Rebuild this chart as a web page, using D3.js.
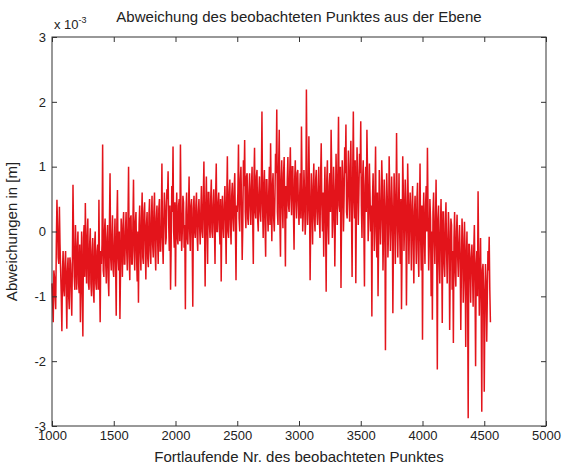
<!DOCTYPE html>
<html lang="de">
<head>
  <meta charset="utf-8">
  <title>Abweichung des beobachteten Punktes</title>
  <script type="text/javascript" src="https://cdnjs.cloudflare.com/ajax/libs/d3/7.8.5/d3.min.js"></script>
  <style>
    body {
      margin: 0px;
      background: #ffffff;
    }
    svg text {
      font-family: "Liberation Sans Narrow", "Arial Narrow", "Liberation Sans", Arial, sans-serif;
      fill: #222222;
    }
  </style>
</head>
<body>
  <script type="text/javascript">
    var width = 566;
    var height = 467;

    // tick labels
    var xTicks = [1000, 1500, 2000, 2500, 3000, 3500, 4000, 4500, 5000];
    var yTicks = [-3, -2, -1, 0, 1, 2, 3];

    // running point number: first point, step between read values
    var startNr = 1000;
    var stepNr = 5;

    // deviation in 1e-3 m at points 1000, 1010, 1020 ... (peaks and dips)
    var abw = [
      -0.8, -1.4, -0.7, -1.2, 0.49, -0.4, 0.38, -0.6, -1.54, -0.3,      // 1000
      -1.0, -0.3, -1.5, -0.4, -1.2, -0.5, -1.3, 0.72, -0.7, 0.1,        // 1100
      -0.9, 0.0, -0.95, -1.4, 0.0, -1.62, 0.1, 0.44, -0.8, 0.2,         // 1200
      -0.9, 0.05, -1.0, -0.1, -1.1, 0.0, -0.9, -0.2, 0.49, -1.4,        // 1300
      -0.5, 1.34, -0.7, 0.2, -0.8, 0.1, -1.0, 0.9, -0.6, 0.25,          // 1400
      -0.7, 0.2, -1.3, 0.64, -0.6, -1.35, 0.2, -0.7, 0.3, -0.5,         // 1500
      0.3, -0.6, 1.0, -0.75, 0.25, -0.5, 0.8, -0.6, 0.3, -0.77,         // 1600
      -1.1, 0.4, -0.6, 0.6, -0.5, 0.45, -0.74, 0.3, -0.55, 0.5,         // 1700
      -0.5, 0.55, -0.4, 0.6, -0.6, 0.4, -0.5, 0.5, -0.3, 1.05,          // 1800
      -0.5, 0.6, -0.2, 0.65, 0.93, -0.3, -0.9, 0.7, 1.31, -0.25,        // 1900
      -0.85, 0.6, -0.2, 0.5, 1.34, -0.3, 0.55, -0.25, -1.2, 0.6,        // 2000
      -0.2, 0.85, -0.3, 0.5, -1.16, 0.55, -0.1, 0.6, -0.3, 0.5,         // 2100
      -0.2, 0.7, -0.1, 1.08, -0.85, 0.85, -0.5, 0.6, -0.1, 0.8,         // 2200
      -0.1, 0.65, -0.5, 1.05, 0.0, 0.6, -0.2, -0.77, 0.55, -0.1,        // 2300
      0.7, -0.5, 1.16, -0.1, 0.8, -0.2, 0.75, 0.0, 0.9, -0.75,          // 2400
      0.3, 1.34, 0.0, 1.0, -0.44, 1.1, 1.41, 0.05, 0.9, 0.1,            // 2500
      0.9, 0.1, 1.0, -0.5, 1.29, 0.2, 0.95, 0.0, 0.85, 0.15,            // 2600
      1.85, -0.1, 0.95, -0.39, 0.8, 0.0, 1.0, 1.36, -0.15, 0.9,         // 2700
      0.0, 1.2, 1.88, 0.1, 1.57, -0.39, 1.1, 0.05, 1.15, -0.54,         // 2800
      0.2, 1.15, 0.3, 1.3, 0.25, 1.0, -0.28, 1.1, 0.2, 0.95,            // 2900
      0.1, 0.9, 1.62, 0.0, 0.95, -0.05, 2.19, 0.1, 1.47, -0.75,         // 3000
      0.9, -0.2, 1.05, 0.0, 0.95, 0.1, 1.0, -0.1, 1.36, 0.0,            // 3100
      -0.39, 1.0, -0.93, 1.1, -0.2, 0.9, 1.57, -0.1, 1.0, -0.54,        // 3200
      1.2, 0.1, 1.77, 0.3, -0.87, 1.1, 0.0, 1.3, 1.65, 0.2,             // 3300
      1.25, 0.15, 1.4, -0.7, 1.85, 0.2, -0.8, 1.3, 0.1, 1.2,            // 3400
      1.7, -0.1, 1.1, -0.85, 1.0, 1.57, -0.15, 1.05, 0.0, -1.31,        // 3500
      0.9, -0.3, 1.31, -0.4, -1.0, 0.95, -0.2, 1.1, -0.6, 0.8,          // 3600
      -1.83, 0.9, -0.4, 1.16, -0.3, 0.85, -1.26, 0.9, -0.5, 1.52,       // 3700
      -0.4, 0.9, -0.5, -1.2, 1.16, -0.3, 0.8, -1.14, 1.05, -0.5,        // 3800
      0.6, -0.6, 0.7, -0.8, 0.55, -0.5, 0.75, -0.7, 1.05, -0.6,         // 3900
      -1.67, 0.6, -0.5, 0.7, 1.29, -0.6, 0.5, -1.0, -1.36, 0.6,         // 4000
      -0.5, 0.8, -2.13, 0.4, -0.8, 0.5, -1.41, 0.3, -0.7, 0.45,         // 4100
      -0.8, 0.3, -1.52, 0.2, -0.9, -1.72, 0.3, -0.85, 0.26, -0.7,       // 4200
      0.1, -1.52, 0.2, -1.1, 0.15, -1.78, 0.0, -2.88, -0.2, -1.1,       // 4300
      -0.2, -1.16, 0.1, -2.08, -0.3, 0.62, -1.3, -0.1, -2.78, -0.5,     // 4400
      -2.47, -0.5, -1.7, -0.3, -0.08, -1.4                              // 4500
    ];

    // deviation in 1e-3 m at points 1005, 1015, 1025 ... (the dense core between)
    var abwZw = [
      -1.1, -0.6, -1.0, -0.2, 0.1, -0.5, -0.2, -1.0, -0.6, -0.9,        // 1005
      -0.5, -0.9, -0.6, -1.0, -0.4, -0.9, -0.5, -0.1, -0.9, -0.3,       // 1105
      -0.3, -0.8, -0.2, -0.7, -0.9, -0.1, -0.7, -0.3, -0.1, -0.8,       // 1205
      -0.2, -0.8, -0.3, -0.9, -0.2, -0.8, -0.3, -0.9, -0.6, -0.3,       // 1305
      -0.2, -0.6, 0.0, -0.5, -0.1, -0.7, 0.1, -0.4, -0.1, -0.6,         // 1405
      -0.2, -0.5, 0.1, -0.4, 0.0, -0.6, -0.1, 0.1, -0.5, 0.0,           // 1505
      -0.3, 0.1, -0.4, 0.2, -0.5, 0.1, -0.3, 0.15, -0.4, 0.0,           // 1605
      0.1, -0.3, 0.2, -0.4, 0.3, -0.2, 0.1, -0.4, 0.25, -0.3,           // 1705
      0.2, -0.2, 0.3, -0.3, 0.2, -0.1, 0.35, -0.3, 0.1, -0.1,           // 1805
      0.1, 0.4, -0.1, 0.5, 0.1, 0.4, -0.2, 0.3, 0.0, 0.45,              // 1905
      0.2, -0.1, 0.4, -0.15, 0.3, 0.0, 0.45, 0.1, 0.3, -0.1,            // 2005
      0.3, 0.0, 0.4, -0.1, 0.35, 0.0, 0.4, -0.05, 0.3, 0.1,             // 2105
      0.3, 0.0, 0.5, 0.1, 0.4, 0.0, 0.6, 0.1, 0.5, 0.0,                 // 2205
      0.4, 0.1, 0.55, 0.0, 0.45, 0.1, 0.5, 0.2, 0.1, 0.4,               // 2305
      0.2, 0.5, 0.0, 0.6, 0.1, 0.55, 0.2, 0.65, 0.1, 0.4,               // 2405
      0.6, 0.2, 0.8, 0.4, 0.1, 0.7, 0.3, 0.85, 0.2, 0.6,                // 2505
      0.4, 0.7, 0.2, 0.8, 0.3, 0.85, 0.2, 0.6, 0.3, 0.7,                // 2605
      0.4, 0.7, 0.1, 0.8, 0.3, 0.6, 0.1, 0.5, 0.7, 0.2,                 // 2705
      0.5, 0.9, 0.3, 1.0, 0.2, 0.8, 0.4, 0.9, 0.3, 0.7,                 // 2805
      0.8, 0.4, 0.9, 0.5, 1.0, 0.3, 0.8, 0.5, 0.9, 0.4,                 // 2905
      0.5, 0.2, 0.7, 0.3, 0.6, 0.2, 0.8, 0.4, 0.6, 0.2,                 // 3005
      0.4, 0.7, 0.2, 0.8, 0.3, 0.6, 0.2, 0.85, 0.4, 0.6,                // 3105
      0.5, 0.2, 0.8, 0.1, 0.7, 0.3, 0.9, 0.2, 0.6, 0.3,                 // 3205
      0.6, 0.9, 0.4, 1.0, 0.3, 0.8, 0.5, 0.9, 0.3, 0.7,                 // 3305
      0.6, 1.0, 0.3, 0.9, 0.5, 1.1, 0.4, 0.8, 0.6, 0.9,                 // 3405
      0.4, 0.8, 0.1, 0.7, 0.3, 0.9, 0.2, 0.6, 0.4, 0.5,                 // 3505
      0.3, 0.5, 0.0, 0.6, -0.1, 0.4, 0.2, 0.7, 0.0, 0.3,                // 3605
      0.2, 0.5, 0.0, 0.6, 0.1, 0.4, -0.1, 0.5, 0.2, 0.3,                // 3705
      0.3, 0.0, 0.5, -0.2, 0.6, 0.1, 0.4, -0.1, 0.5, 0.2,               // 3805
      0.1, 0.4, -0.2, 0.3, 0.0, 0.5, -0.3, 0.2, -0.1, 0.4,              // 3905
      0.2, -0.1, 0.4, 0.0, 0.3, -0.2, 0.2, 0.0, 0.3, -0.1,              // 4005
      0.1, -0.3, 0.2, -0.4, 0.0, -0.2, 0.3, -0.5, 0.1, -0.3,            // 4105
      -0.2, 0.0, -0.5, 0.1, -0.3, -0.1, -0.6, 0.0, -0.4, -0.2,          // 4205
      -0.4, -0.6, -0.1, -0.7, -0.3, -0.5, -0.8, -0.2, -0.6, -0.4,       // 4305
      -0.6, -0.3, -0.8, -0.5, -1.0, -0.4, -0.7, -1.1, -0.6, -0.9,       // 4405
      -1.2, -0.8, -1.0, -0.6, -0.9                                      // 4505
    ];

    // both readings in point order: 1000, 1005, 1010 ...
    var werte = [];
    abw.forEach(function (v, i) {
      werte.push(v);
      if (i < abwZw.length) { werte.push(abwZw[i]); }
    });

    var margin = {top: 37, right: 20, bottom: 41, left: 52};
    var plotW = width - margin.left - margin.right;
    var plotH = height - margin.top - margin.bottom;

    var svg = d3.select("body").append("svg")
      .attr("width", width)
      .attr("height", height);

    var x = d3.scaleLinear().domain([1000, 5000]).range([0, plotW]);
    var y = d3.scaleLinear().domain([-3, 3]).range([plotH, 0]);

    var g = svg.append("g")
      .attr("transform", "translate(" + margin.left + "," + margin.top + ")");

    // the measured line
    var line = d3.line()
      .x(function (d, i) { return x(startNr + i * stepNr); })
      .y(function (d) { return y(d); });

    g.append("path")
      .datum(werte)
      .attr("fill", "none")
      .attr("stroke", "#e3141b")
      .attr("stroke-width", 1.5)
      .attr("stroke-linejoin", "miter")
      .attr("d", line);

    // axes, matlab style: ticks inside, box all around
    function styleAxis(sel) {
      sel.select(".domain").remove();
      sel.selectAll(".tick line").attr("stroke", "#333333");
      sel.selectAll(".tick text")
        .attr("fill", "#222222")
        .style("font-size", "13px");
    }

    g.append("g")
      .attr("transform", "translate(0," + plotH + ")")
      .call(d3.axisBottom(x).tickValues(xTicks).tickSizeInner(-5).tickSizeOuter(0)
        .tickPadding(5).tickFormat(function (d) { return String(d); }))
      .call(styleAxis);

    g.append("g")
      .call(d3.axisTop(x).tickValues(xTicks).tickSizeInner(-5).tickSizeOuter(0)
        .tickFormat(""))
      .call(styleAxis);

    g.append("g")
      .call(d3.axisLeft(y).tickValues(yTicks).tickSizeInner(-5).tickSizeOuter(0)
        .tickPadding(6).tickFormat(function (d) { return String(d); }))
      .call(styleAxis);

    g.append("g")
      .attr("transform", "translate(" + plotW + ",0)")
      .call(d3.axisRight(y).tickValues(yTicks).tickSizeInner(-5).tickSizeOuter(0)
        .tickFormat(""))
      .call(styleAxis);

    g.append("rect")
      .attr("x", 0)
      .attr("y", 0)
      .attr("width", plotW)
      .attr("height", plotH)
      .attr("fill", "none")
      .attr("stroke", "#333333")
      .attr("stroke-width", 1);

    // exponent label
    var expo = svg.append("text")
      .attr("x", margin.left + 2)
      .attr("y", 29)
      .style("font-size", "13px");
    expo.append("tspan").text("x 10");
    expo.append("tspan")
      .attr("dy", -6)
      .style("font-size", "9px")
      .text("-3");

    // title
    svg.append("text")
      .attr("x", margin.left + plotW / 2)
      .attr("y", 22)
      .attr("text-anchor", "middle")
      .style("font-size", "15px")
      .text("Abweichung des beobachteten Punktes aus der Ebene");

    // x label
    svg.append("text")
      .attr("x", margin.left + plotW / 2)
      .attr("y", 462)
      .attr("text-anchor", "middle")
      .style("font-size", "15px")
      .text("Fortlaufende Nr. des beobachteten Punktes");

    // y label
    svg.append("text")
      .attr("transform", "translate(17," + (margin.top + plotH / 2) + ") rotate(-90)")
      .attr("text-anchor", "middle")
      .style("font-size", "15px")
      .text("Abweichungen in [m]");
  </script>
</body>
</html>
